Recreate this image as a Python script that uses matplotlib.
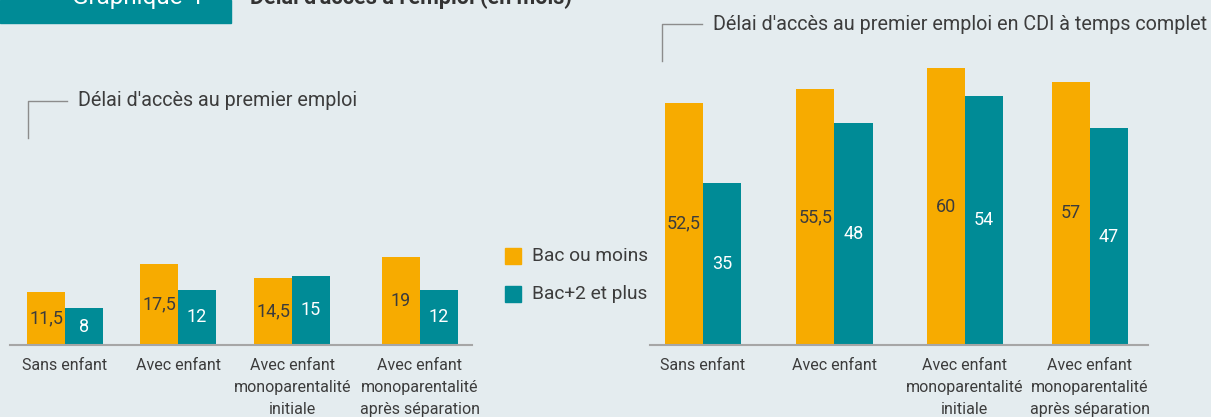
import matplotlib
matplotlib.use("Agg")
import matplotlib.pyplot as plt
from matplotlib.lines import Line2D
from matplotlib.patches import Rectangle
import numpy as np

categories = ["Sans enfant", "Avec enfant",
              "Avec enfant\nmonoparentalité\ninitiale",
              "Avec enfant\nmonoparentalité\naprès séparation"]
series_names = ["Bac ou moins", "Bac+2 et plus"]

# délai d'accès au premier emploi (mois)
premier_bac = [11.5, 17.5, 14.5, 19]
premier_bac2 = [8, 12, 15, 12]

# délai d'accès au premier emploi en CDI à temps complet (mois)
cdi_bac = [52.5, 55.5, 60, 57]
cdi_bac2 = [35, 48, 54, 47]

def fmt(v):
    s = ("%.1f" % v).rstrip("0").rstrip(".")
    return s.replace(".", ",")

BG = "#e4ecef"
ORANGE = "#f7ab00"
TEAL = "#008b96"
GREY = "#a6a6a6"
TXT = "#3c3c3c"

plt.rcParams["font.family"] = ["Roboto", "DejaVu Sans"]

W, H = 1211, 417
fig = plt.figure(figsize=(W / 100, H / 100), dpi=100, facecolor=BG)

def px(x, y):
    # pixel coords (from top-left) -> figure fraction
    return x / W, 1 - y / H

# header (cut off at the top, as in the source page)
fig.patches.append(Rectangle((0, 1 - 23 / H), 231 / W, 23 / H,
                             transform=fig.transFigure, color=TEAL, zorder=0))
fig.text(*px(72, 4), "Graphique 4", color="white", fontsize=17.5,
         va="baseline", ha="left")
fig.text(*px(250, 4), "Délai d'accès à l'emploi (en mois)", color="#333333",
         fontsize=15.5, fontweight="bold", va="baseline", ha="left")

def panel(rect, vals1, vals2, groups, xlim, width):
    ax = fig.add_axes(rect)
    ax.set_facecolor("none")
    x = np.array(groups)
    b1 = ax.bar(x - width / 2, vals1, width, color=ORANGE)
    b2 = ax.bar(x + width / 2, vals2, width, color=TEAL)
    for bars, vals, c in ((b1, vals1, TXT), (b2, vals2, "white")):
        for r, v in zip(bars, vals):
            ax.text(r.get_x() + r.get_width() / 2, v / 2, fmt(v),
                    ha="center", va="center", fontsize=13, color=c)
    ax.set_ylim(0, 60)
    ax.set_xlim(*xlim)
    ax.set_xticks(x)
    ax.set_xticklabels(categories, fontsize=11.5, color=TXT, linespacing=1.6)
    ax.tick_params(axis="x", length=0, pad=9)
    ax.set_yticks([])
    for s in ("top", "right", "left"):
        ax.spines[s].set_visible(False)
    ax.spines["bottom"].set_color(GREY)
    ax.spines["bottom"].set_linewidth(1.5)
    return ax

bottom = 1 - 345 / H
height = (345 - 68) / H
panel([10 / W, bottom, 462 / W, height], premier_bac, premier_bac2,
      [0, 0.955, 1.92, 3.0], (-0.465, 3.44), 0.32)
panel([650 / W, bottom, 498 / W, height], cdi_bac, cdi_bac2,
      [0, 1.02, 2.03, 3.0], (-0.41, 3.45), 0.295)

# panel titles with bracket
def bracket(x0, y0, x1, y1, label):
    fig.lines.append(Line2D([x0 / W, x0 / W, x1 / W],
                            [1 - y1 / H, 1 - y0 / H, 1 - y0 / H],
                            transform=fig.transFigure, color="#8c8c8c", lw=1))
    fig.text(*px(x1 + 11, y0), label, fontsize=14.2, color=TXT,
             ha="left", va="center")

bracket(28, 101, 67, 138, "Délai d'accès au premier emploi")
bracket(662, 24, 702, 61, "Délai d'accès au premier emploi en CDI à temps complet")

# legend
for i, (name, c) in enumerate(zip(series_names, [ORANGE, TEAL])):
    yc = 256 + i * 38
    fig.patches.append(Rectangle(px(505, yc + 8), 16 / W, 16 / H,
                                 transform=fig.transFigure, color=c))
    fig.text(*px(532, yc), name, fontsize=13.8, color=TXT, ha="left", va="center")

fig.savefig("out.png", dpi=100, facecolor=BG)
